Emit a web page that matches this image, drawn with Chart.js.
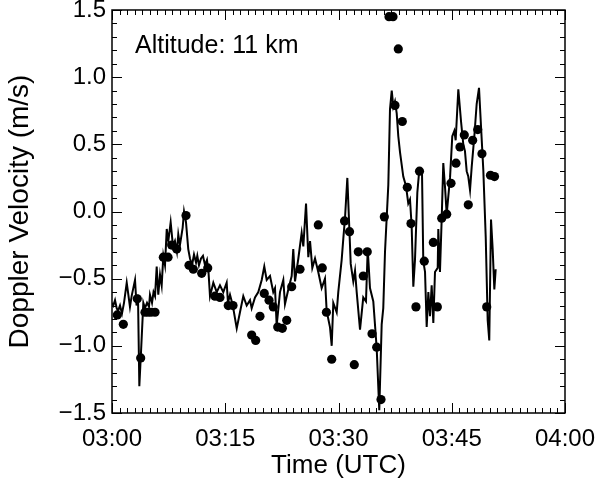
<!DOCTYPE html>
<html>
<head>
<meta charset="utf-8">
<script src="https://cdn.jsdelivr.net/npm/chart.js@4/dist/chart.umd.min.js"></script>
<style>
    html, body { margin: 0; padding: 0; background: #fff; }
</style>
</head>
<body>
<canvas id="chart" width="605" height="478"></canvas>
<script>
// minutes after 03:00 UTC
const lineTimes = [0.0, 0.17, 0.4, 0.62, 0.8, 1.06, 1.32, 1.59, 1.95, 2.12, 2.38, 2.6, 3.05, 3.25, 3.44, 3.62, 3.84, 4.15, 4.37, 4.64,
    4.9, 5.03, 5.3, 5.5, 5.7, 5.92, 6.13, 6.36, 6.58, 6.8, 7.02, 7.25, 7.46, 7.77, 8.08, 8.34, 8.6, 8.78, 9.0, 9.36,
    9.54, 9.8, 10.1, 10.33, 10.6, 10.86, 11.13, 11.3, 11.52, 11.79, 12.05, 12.32, 12.58, 12.78, 12.98, 13.42, 13.87, 14.3, 14.74, 15.19,
    15.36, 15.63, 16.0, 16.52, 16.95, 17.39, 17.84, 18.28, 18.5, 18.94, 19.38, 19.83, 20.17, 20.49, 20.93, 21.36, 21.59, 21.81, 22.25, 22.69,
    22.91, 23.35, 23.8, 24.01, 24.24, 24.68, 25.12, 25.34, 25.7, 26.0, 26.23, 26.53, 26.89, 27.32, 27.77, 28.21, 28.43, 28.87, 29.1, 29.31,
    29.76, 29.97, 30.42, 30.64, 30.86, 31.17, 31.43, 31.62, 31.96, 32.19, 32.41, 32.85, 33.28, 33.64, 33.87, 34.17, 34.61, 35.06, 35.4, 35.72,
    35.93, 36.16, 36.6, 36.82, 37.05, 37.26, 37.48, 37.71, 37.92, 38.15, 38.58, 38.94, 39.24, 39.47, 39.69, 39.91, 40.13, 40.44, 40.7, 41.06,
    41.23, 41.46, 41.68, 41.9, 42.12, 42.34, 42.56, 42.78, 43.14, 43.22, 43.44, 43.67, 43.88, 44.11, 44.33, 44.77, 45.07, 45.34, 45.52, 45.87,
    46.23, 46.53, 46.75, 46.98, 47.19, 47.42, 47.64, 47.99, 48.3, 48.61, 48.87, 49.18, 49.5, 49.76, 49.97, 50.2, 50.42, 50.64, 50.82];
const lineValues = [-0.68, -0.70, -0.66, -0.72, -0.74, -0.70, -0.76, -0.68, -0.53, -0.60, -0.71, -0.63, -0.51, -0.70, -0.62, -1.30, -1.05, -0.68, -0.72, -0.68,
    -0.71, -0.62, -0.68, -0.60, -0.63, -0.41, -0.62, -0.47, -0.55, -0.33, -0.40, -0.13, -0.22, -0.08, -0.26, -0.22, -0.30, -0.17, -0.25, -0.12,
    0.0, -0.08, -0.28, -0.35, -0.40, -0.32, -0.38, -0.33, -0.40, -0.35, -0.33, -0.40, -0.36, -0.45, -0.63, -0.53, -0.60, -0.55, -0.60, -0.53,
    -0.68, -0.62, -0.70, -0.87, -0.75, -0.63, -0.70, -0.66, -0.72, -0.64, -0.60, -0.51, -0.41, -0.51, -0.48, -0.60, -0.57, -0.85, -0.60, -0.51,
    -0.69, -0.58, -0.48, -0.28, -0.52, -0.35, -0.16, -0.26, 0.06, -0.34, -0.22, -0.42, -0.35, -0.45, -0.57, -0.50, -0.74, -0.86, -1.00, -0.68,
    -0.75, -0.60, -0.36, -0.20, -0.05, 0.25, -0.12, -0.39, -0.52, -0.44, -0.60, -0.88, -0.64, -0.67, -0.28, -0.57, -0.67, -1.02, -1.48, -0.84,
    -0.72, -0.30, 0.20, 0.76, 0.90, 0.78, 0.82, 0.73, 0.56, 0.44, 0.26, 0.19, 0.06, 0.09, -0.11, -0.56, -0.36, 0.14, 0.31, 0.29,
    -0.37, -0.45, -0.86, -0.60, -0.78, -0.55, -0.83, -0.45, -0.42, -0.13, -0.45, -0.05, 0.36, 0.18, -0.02, 0.25, 0.56, 0.60, 0.53, 0.91,
    0.67, 0.50, 0.45, 0.30, 0.26, 0.16, 0.33, 0.56, 0.80, 0.92, 0.64, 0.31, -0.19, -0.81, -0.96, -0.06, -0.28, -0.58, -0.43];

const dotTimes = [0.7, 1.5, 3.35, 3.8, 4.37, 4.77, 5.17, 5.7, 6.8, 7.42, 7.9, 8.57, 9.8, 10.2, 10.77, 11.88, 12.68, 13.64, 14.3, 15.4,
    16.03, 18.5, 19.03, 19.6, 20.17, 20.8, 21.36, 21.95, 22.56, 23.14, 23.8, 24.9, 27.32, 27.85, 28.4, 29.1, 30.8, 31.46, 32.09, 32.62,
    33.28, 33.81, 34.44, 35.06, 35.63, 36.07, 36.69, 37.22, 37.48, 37.92, 38.45, 39.11, 39.6, 40.26, 40.73, 41.36, 42.56, 43.09, 43.67, 44.33,
    44.9, 45.56, 46.09, 46.66, 47.19, 47.77, 48.44, 49.0, 49.63, 50.13, 50.66];
const dotValues = [-0.77, -0.84, -0.65, -1.09, -0.75, -0.75, -0.75, -0.75, -0.34, -0.34, -0.25, -0.28, -0.03, -0.40, -0.43, -0.46, -0.42, -0.63, -0.64, -0.70,
    -0.70, -0.92, -0.96, -0.78, -0.61, -0.66, -0.71, -0.86, -0.87, -0.81, -0.56, -0.43, -0.10, -0.42, -0.75, -1.10, -0.07, -0.15, -1.14, -0.30,
    -0.48, -0.30, -0.91, -1.01, -1.40, -0.04, 1.45, 1.45, 0.79, 1.21, 0.67, 0.18, -0.09, -0.71, 0.30, -0.37, -0.23, -0.71, -0.05, -0.02,
    0.21, 0.36, 0.48, 0.57, 0.05, 0.53, 0.61, 0.43, -0.71, 0.27, 0.26];

const xTickLabels = ['03:00', '03:15', '03:30', '03:45', '04:00'];
const yTickValues = [-1.5, -1.0, -0.5, 0.0, 0.5, 1.0, 1.5];

const FONT = '"Liberation Sans", Arial, Helvetica, sans-serif';

// frame on all four sides with inward major/minor ticks, IDL style
const frameTicks = {
    id: 'frameTicks',
    afterDatasetsDraw(chart) {
        const { ctx, chartArea: a, scales: { x, y } } = chart;
        ctx.save();
        ctx.strokeStyle = '#000';
        ctx.lineWidth = 1.5;
        ctx.strokeRect(a.left, a.top, a.right - a.left, a.bottom - a.top);
        ctx.lineWidth = 1;
        ctx.beginPath();
        for (let m = 0; m <= 60; m++) {
            const px = Math.round(x.getPixelForValue(m)) + 0.5;
            const len = m % 15 === 0 ? 10 : 5;
            ctx.moveTo(px, a.bottom); ctx.lineTo(px, a.bottom - len);
            ctx.moveTo(px, a.top); ctx.lineTo(px, a.top + len);
        }
        for (let i = -15; i <= 15; i++) {
            const py = Math.round(y.getPixelForValue(i / 10)) + 0.5;
            const len = i % 5 === 0 ? 10 : 5;
            ctx.moveTo(a.left, py); ctx.lineTo(a.left + len, py);
            ctx.moveTo(a.right, py); ctx.lineTo(a.right - len, py);
        }
        ctx.stroke();

        ctx.fillStyle = '#000';
        ctx.font = '25px ' + FONT;
        ctx.textBaseline = 'middle';
        ctx.fillText('Altitude: 11 km', a.left + 23, a.top + 36);
        ctx.restore();
    }
};

new Chart(document.getElementById('chart'), {
    type: 'scatter',
    data: {
        datasets: [
            {
                label: 'line',
                data: lineTimes.map((t, i) => ({ x: t, y: lineValues[i] })),
                showLine: true,
                borderColor: '#000',
                borderWidth: 2,
                pointRadius: 0,
                tension: 0
            },
            {
                label: 'dots',
                data: dotTimes.map((t, i) => ({ x: t, y: dotValues[i] })),
                backgroundColor: '#000',
                borderWidth: 0,
                pointRadius: 4.6
            }
        ]
    },
    options: {
        responsive: false,
        animation: false,
        layout: { padding: { top: 10, right: 40, left: 0, bottom: 0 } },
        plugins: {
            legend: { display: false },
            tooltip: { enabled: false }
        },
        scales: {
            x: {
                type: 'linear',
                min: 0,
                max: 60,
                afterFit: s => { s.height = 65; s.paddingLeft = 0; s.paddingRight = 0; },
                afterBuildTicks: s => { s.ticks = xTickLabels.map((_, i) => ({ value: i * 15 })); },
                ticks: {
                    callback: v => xTickLabels[Math.round(v / 15)],
                    color: '#000',
                    font: { family: FONT, size: 24 },
                    padding: 12,
                    maxRotation: 0
                },
                grid: { display: false, drawTicks: false },
                border: { display: false },
                title: {
                    display: true,
                    text: 'Time (UTC)',
                    color: '#000',
                    font: { family: FONT, size: 26 },
                    padding: { top: 0, bottom: -3 }
                }
            },
            y: {
                min: -1.5,
                max: 1.5,
                afterFit: s => { s.width = 112; s.paddingTop = 0; s.paddingBottom = 0; },
                afterBuildTicks: s => { s.ticks = yTickValues.map(v => ({ value: v })); },
                ticks: {
                    callback: v => (v < 0 ? '\u2212' : '') + Math.abs(v).toFixed(1),
                    color: '#000',
                    font: { family: FONT, size: 24 },
                    padding: 6
                },
                grid: { display: false, drawTicks: false },
                border: { display: false },
                title: {
                    display: true,
                    text: 'Doppler Velocity (m/s)',
                    color: '#000',
                    font: { family: FONT, size: 28 },
                    padding: { top: 3, bottom: 0 }
                }
            }
        }
    },
    plugins: [frameTicks]
});
</script>
</body>
</html>
